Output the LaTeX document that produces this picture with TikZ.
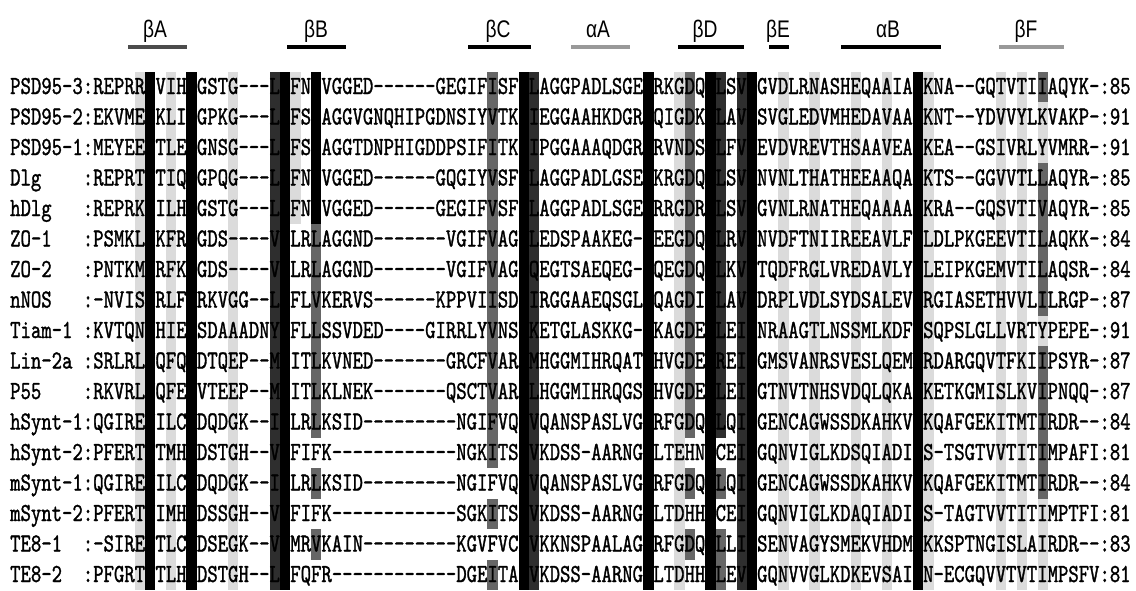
\documentclass[tikz,border=0pt]{standalone}
\usepackage{fontspec}
\setmonofont{lmmono10-regular.otf}[FakeStretch=0.76,FakeBold=1.2]
\newfontfamily\labfont{Liberation Sans}[FakeStretch=0.8]

\begin{document}
\begin{tikzpicture}
  [x=1pt,y=-1pt,
   seq node/.style={anchor=base west,inner sep=0pt,font=\ttfamily\fontsize{26}{26}\selectfont},
   lab node/.style={anchor=base,inner sep=0pt,font=\labfont\fontsize{24}{24}\selectfont},
   lite/.style={fill=black!14},
   midg/.style={fill=black!60},
   dark/.style={fill=black!82},
   blk/.style={fill=black},
   bar/.style={line width=3.5pt}]
  \useasboundingbox (0,0) rectangle (1136,590);

  % secondary structure
  \foreach \t/\xa/\xb/\lx/\cl [count=\i] in {βA/128/187/155/black!70, βB/287/346/316/black,
      βC/468/531/498/black, αA/571/630/598/black!40, βD/678/744/705/black,
      βE/769/789/778/black, αB/841/941/888/black, βF/999/1064/1026/black!40}
  {
    \node[lab node] (lab\i) at (\lx,37) {\t};
    \draw[bar,\cl] (\xa,47) -- (\xb,47);
  }

  % shaded columns: col/first row/last row/shade
  \foreach \c/\a/\b/\s in {5/1/17/lite, 6/1/17/blk, 8/1/17/lite, 10/1/17/blk, 14/1/17/lite,
      18/1/17/dark, 19/1/17/blk, 20/1/5/lite,
      22/1/5/blk, 22/6/12/midg, 22/14/14/midg, 22/16/16/midg,
      39/1/12/midg, 39/13/13/midg, 39/15/15/midg, 39/17/17/midg,
      42/1/17/blk, 43/1/17/dark, 54/1/17/blk, 57/1/17/lite,
      58/1/12/midg, 58/14/14/midg, 58/16/16/midg,
      60/1/17/blk, 61/1/12/dark, 61/14/14/midg, 61/16/17/midg,
      63/1/17/dark, 64/1/17/blk, 67/1/17/lite, 70/1/17/lite, 74/1/17/lite, 77/1/17/lite,
      80/1/17/blk, 81/1/17/lite, 88/1/17/lite, 90/1/17/lite,
      92/1/1/midg, 92/2/3/lite, 92/4/8/midg, 92/9/9/lite, 92/10/14/midg, 92/15/17/lite}
    \fill[\s] ({10+(7+\c)*10.38},{87+(\a-1.5)*30.5}) rectangle ({10+(8+\c)*10.38},{87+(\b-0.5)*30.5});

  % aligned sequences
  \foreach \nm/\sq [count=\r] in {
      PSD95-3/:REPRRIVIHRGSTG---LGFNIVGGED------GEGIFISFILAGGPADLSGELRKGDQILSVNGVDLRNASHEQAAIALKNA--GQTVTIIAQYK-:85,
      PSD95-2/:EKVMEIKLIKGPKG---LGFSIAGGVGNQHIPGDNSIYVTKIIEGGAAHKDGRLQIGDKILAVNSVGLEDVMHEDAVAALKNT--YDVVYLKVAKP-:91,
      PSD95-1/:MEYEEITLERGNSG---LGFSIAGGTDNPHIGDDPSIFITKIIPGGAAAQDGRLRVNDSILFVNEVDVREVTHSAAVEALKEA--GSIVRLYVMRR-:91,
      Dlg/:REPRTITIQKGPQG---LGFNIVGGED------GQGIYVSFILAGGPADLGSELKRGDQLLSVNNVNLTHATHEEAAQALKTS--GGVVTLLAQYR-:85,
      hDlg/:REPRKIILHRGSTG---LGFNIVGGED------GEGIFVSFILAGGPADLSGELRRGDRILSVNGVNLRNATHEQAAAALKRA--GQSVTIVAQYR-:85,
      ZO-1/:PSMKLVKFRKGDS----VGLRLAGGND-------VGIFVAGVLEDSPAAKEG-LEEGDQILRVNNVDFTNIIREEAVLFLLDLPKGEEVTILAQKK-:84,
      ZO-2/:PNTKMVRFKKGDS----VGLRLAGGND-------VGIFVAGIQEGTSAEQEG-LQEGDQILKVNTQDFRGLVREDAVLYLLEIPKGEMVTILAQSR-:84,
      nNOS/:-NVISVRLFKRKVGG--LGFLVKERVS------KPPVIISDLIRGGAAEQSGLIQAGDIILAVNDRPLVDLSYDSALEVLRGIASETHVVLILRGP-:87,
      Tiam-1/:KVTQNVHIEKSDAAADNYGFLLSSVDED----GIRRLYVNSVKETGLASKKG-LKAGDEILEINNRAAGTLNSSMLKDFLSQPSLGLLVRTYPEPE-:91,
      Lin-2a/:SRLRLVQFQKDTQEP--MGITLKVNED-------GRCFVARIMHGGMIHRQATLHVGDEIREINGMSVANRSVESLQEMLRDARGQVTFKIIPSYR-:87,
      P55/:RKVRLVQFEKVTEEP--MGITLKLNEK-------QSCTVARILHGGMIHRQGSLHVGDEILEINGTNVTNHSVDQLQKAMKETKGMISLKVIPNQQ-:87,
      hSynt-1/:QGIREVILCKDQDGK--IGLRLKSID---------NGIFVQLVQANSPASLVGLRFGDQVLQINGENCAGWSSDKAHKVLKQAFGEKITMTIRDR--:84,
      hSynt-2/:PFERTVTMHKDSTGH--VGFIFK------------NGKITSIVKDSS-AARNGLLTEHNICEINGQNVIGLKDSQIADILS-TSGTVVTITIMPAFI:81,
      mSynt-1/:QGIREVILCKDQDGK--IGLRLKSID---------NGIFVQLVQANSPASLVGLRFGDQVLQINGENCAGWSSDKAHKVLKQAFGEKITMTIRDR--:84,
      mSynt-2/:PFERTVIMHKDSSGH--VGFIFK------------SGKITSIVKDSS-AARNGLLTDHHICEINGQNVIGLKDAQIADILS-TAGTVVTITIMPTFI:81,
      TE8-1/:-SIREITLCKDSEGK--VGMRVKAIN---------KGVFVCLVKKNSPAALAGLRFGDQILLINSENVAGYSMEKVHDMLKKSPTNGISLAIRDR--:83,
      TE8-2/:PFGRTVTLHKDSTGH--LGFQFR------------DGEITALVKDSS-AARNGLLTDHHLLEVNGQNVVGLKDKEVSAIIN-ECGQVVTVTIMPSFV:81}
  {
    \node[seq node] (name\r) at (10,{94+(\r-1)*30.5}) {\nm};
    \node[seq node] (seq\r) at ({10+7*10.38},{94+(\r-1)*30.5}) {\sq};
  }
\end{tikzpicture}
\end{document}
